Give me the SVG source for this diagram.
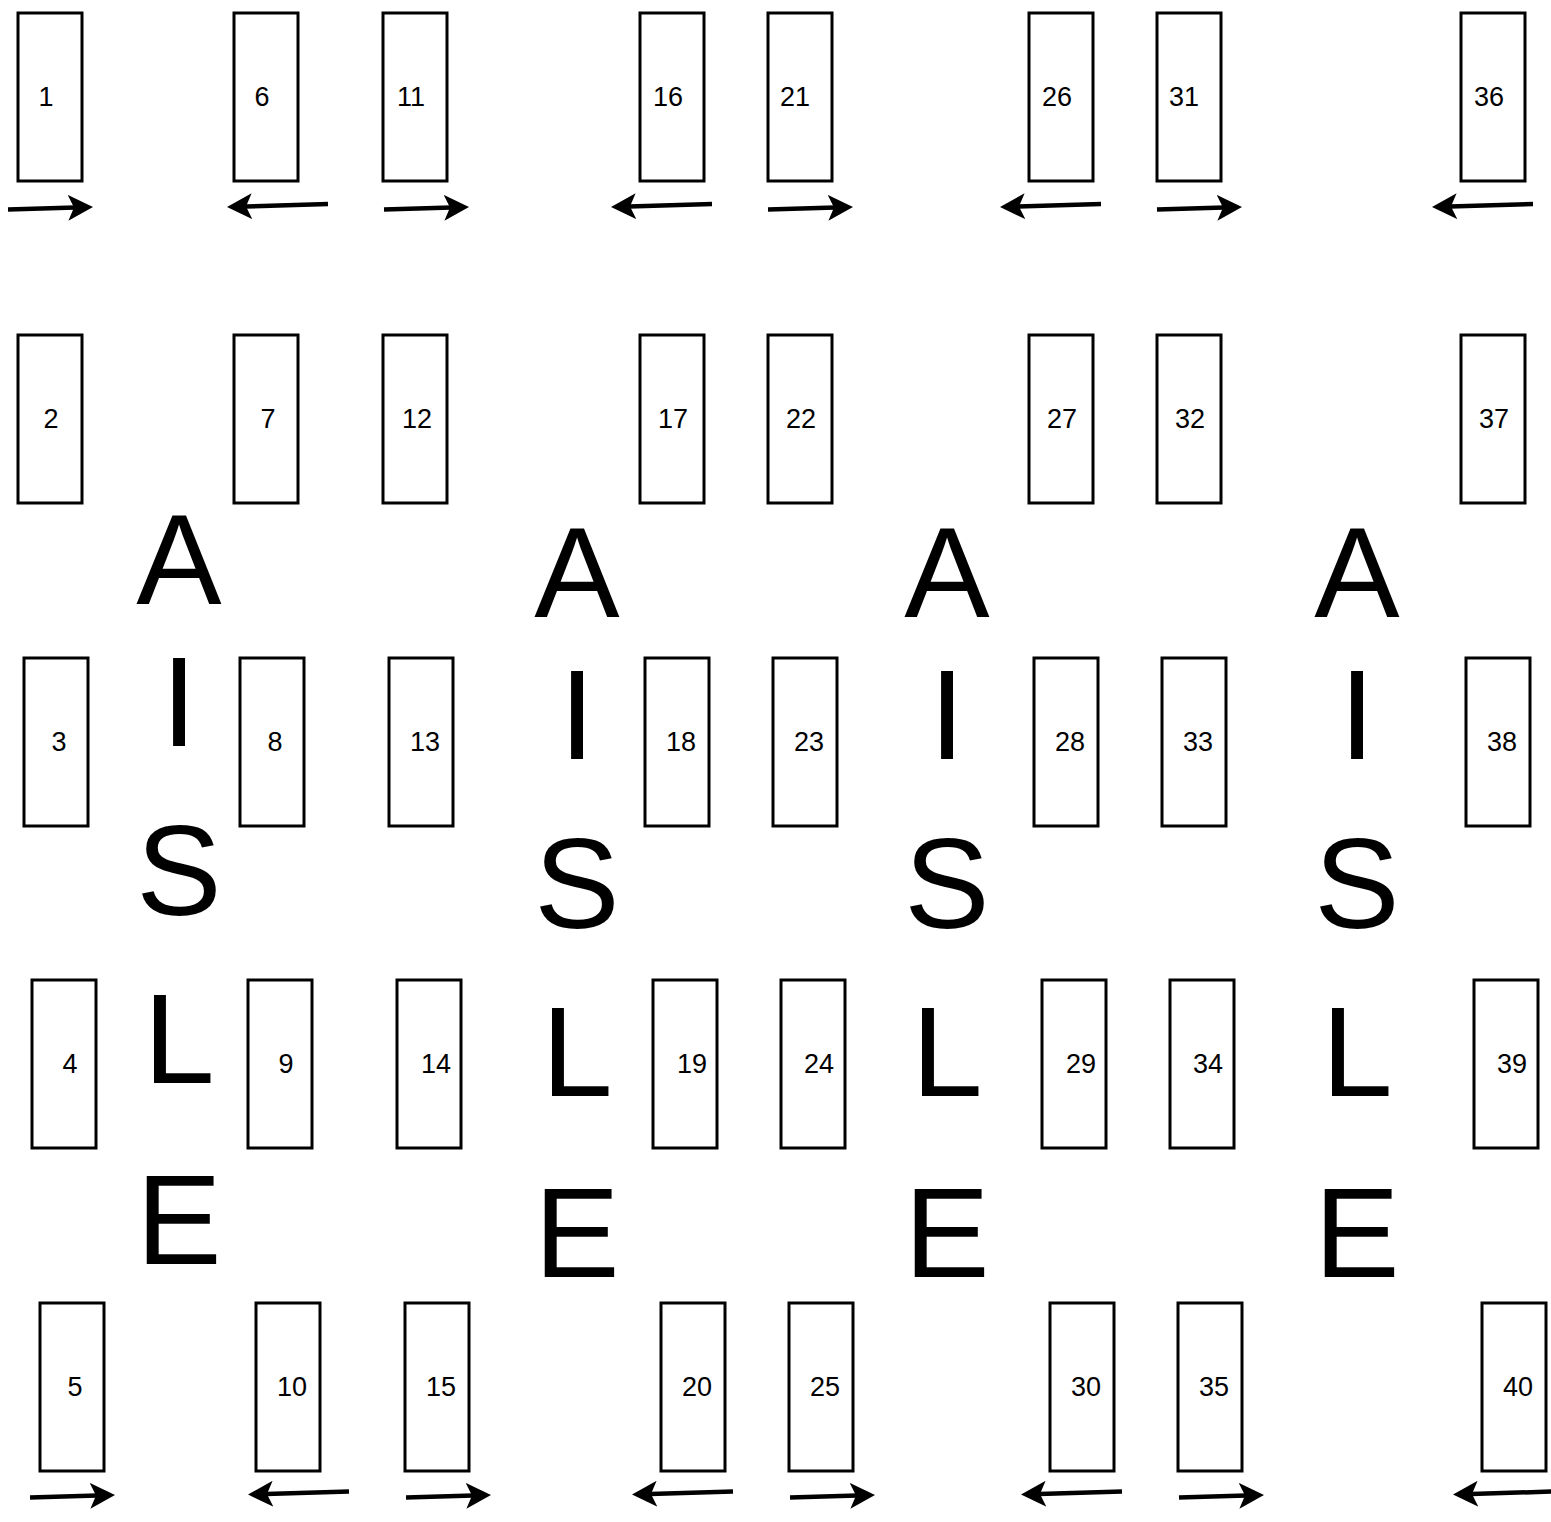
<svg xmlns="http://www.w3.org/2000/svg" width="1551" height="1522" viewBox="0 0 1551 1522">
<style>
.box{fill:#fff;stroke:#000;stroke-width:3}
.lbl{font-family:"Liberation Sans",Arial,Helvetica,sans-serif;font-size:27px;fill:#000;text-anchor:middle}
.aisle{font-family:"Liberation Sans",Arial,Helvetica,sans-serif;font-size:128px;fill:#000;text-anchor:middle}
.arr{fill:none;stroke:#000;stroke-width:4.5;marker-end:url(#head)}
</style>
<defs>
<marker id="head" markerUnits="userSpaceOnUse" viewBox="0 0 26 26" refX="7" refY="13" markerWidth="26" markerHeight="26" orient="auto">
<path d="M0,0 L25,13 L0,26 L6,13 Z" fill="#000"/>
</marker>
</defs>
<rect width="1551" height="1522" fill="#fff"/>
<g id="node-1"><rect class="box" x="18" y="13" width="64" height="168"/><text class="lbl" x="46" y="106">1</text></g>
<g id="node-6"><rect class="box" x="234" y="13" width="64" height="168"/><text class="lbl" x="262" y="106">6</text></g>
<g id="node-11"><rect class="box" x="383" y="13" width="64" height="168"/><text class="lbl" x="411" y="106">11</text></g>
<g id="node-16"><rect class="box" x="640" y="13" width="64" height="168"/><text class="lbl" x="668" y="106">16</text></g>
<g id="node-21"><rect class="box" x="768" y="13" width="64" height="168"/><text class="lbl" x="795" y="106">21</text></g>
<g id="node-26"><rect class="box" x="1029" y="13" width="64" height="168"/><text class="lbl" x="1057" y="106">26</text></g>
<g id="node-31"><rect class="box" x="1157" y="13" width="64" height="168"/><text class="lbl" x="1184" y="106">31</text></g>
<g id="node-36"><rect class="box" x="1461" y="13" width="64" height="168"/><text class="lbl" x="1489" y="106">36</text></g>

<g id="node-2"><rect class="box" x="18" y="335" width="64" height="168"/><text class="lbl" x="51" y="428">2</text></g>
<g id="node-7"><rect class="box" x="234" y="335" width="64" height="168"/><text class="lbl" x="268" y="428">7</text></g>
<g id="node-12"><rect class="box" x="383" y="335" width="64" height="168"/><text class="lbl" x="417" y="428">12</text></g>
<g id="node-17"><rect class="box" x="640" y="335" width="64" height="168"/><text class="lbl" x="673" y="428">17</text></g>
<g id="node-22"><rect class="box" x="768" y="335" width="64" height="168"/><text class="lbl" x="801" y="428">22</text></g>
<g id="node-27"><rect class="box" x="1029" y="335" width="64" height="168"/><text class="lbl" x="1062" y="428">27</text></g>
<g id="node-32"><rect class="box" x="1157" y="335" width="64" height="168"/><text class="lbl" x="1190" y="428">32</text></g>
<g id="node-37"><rect class="box" x="1461" y="335" width="64" height="168"/><text class="lbl" x="1494" y="428">37</text></g>

<g id="node-3"><rect class="box" x="24" y="658" width="64" height="168"/><text class="lbl" x="59" y="751">3</text></g>
<g id="node-8"><rect class="box" x="240" y="658" width="64" height="168"/><text class="lbl" x="275" y="751">8</text></g>
<g id="node-13"><rect class="box" x="389" y="658" width="64" height="168"/><text class="lbl" x="425" y="751">13</text></g>
<g id="node-18"><rect class="box" x="645" y="658" width="64" height="168"/><text class="lbl" x="681" y="751">18</text></g>
<g id="node-23"><rect class="box" x="773" y="658" width="64" height="168"/><text class="lbl" x="809" y="751">23</text></g>
<g id="node-28"><rect class="box" x="1034" y="658" width="64" height="168"/><text class="lbl" x="1070" y="751">28</text></g>
<g id="node-33"><rect class="box" x="1162" y="658" width="64" height="168"/><text class="lbl" x="1198" y="751">33</text></g>
<g id="node-38"><rect class="box" x="1466" y="658" width="64" height="168"/><text class="lbl" x="1502" y="751">38</text></g>

<g id="node-4"><rect class="box" x="32" y="980" width="64" height="168"/><text class="lbl" x="70" y="1073">4</text></g>
<g id="node-9"><rect class="box" x="248" y="980" width="64" height="168"/><text class="lbl" x="286" y="1073">9</text></g>
<g id="node-14"><rect class="box" x="397" y="980" width="64" height="168"/><text class="lbl" x="436" y="1073">14</text></g>
<g id="node-19"><rect class="box" x="653" y="980" width="64" height="168"/><text class="lbl" x="692" y="1073">19</text></g>
<g id="node-24"><rect class="box" x="781" y="980" width="64" height="168"/><text class="lbl" x="819" y="1073">24</text></g>
<g id="node-29"><rect class="box" x="1042" y="980" width="64" height="168"/><text class="lbl" x="1081" y="1073">29</text></g>
<g id="node-34"><rect class="box" x="1170" y="980" width="64" height="168"/><text class="lbl" x="1208" y="1073">34</text></g>
<g id="node-39"><rect class="box" x="1474" y="980" width="64" height="168"/><text class="lbl" x="1512" y="1073">39</text></g>

<g id="node-5"><rect class="box" x="40" y="1303" width="64" height="168"/><text class="lbl" x="75" y="1396">5</text></g>
<g id="node-10"><rect class="box" x="256" y="1303" width="64" height="168"/><text class="lbl" x="292" y="1396">10</text></g>
<g id="node-15"><rect class="box" x="405" y="1303" width="64" height="168"/><text class="lbl" x="441" y="1396">15</text></g>
<g id="node-20"><rect class="box" x="661" y="1303" width="64" height="168"/><text class="lbl" x="697" y="1396">20</text></g>
<g id="node-25"><rect class="box" x="789" y="1303" width="64" height="168"/><text class="lbl" x="825" y="1396">25</text></g>
<g id="node-30"><rect class="box" x="1050" y="1303" width="64" height="168"/><text class="lbl" x="1086" y="1396">30</text></g>
<g id="node-35"><rect class="box" x="1178" y="1303" width="64" height="168"/><text class="lbl" x="1214" y="1396">35</text></g>
<g id="node-40"><rect class="box" x="1482" y="1303" width="64" height="168"/><text class="lbl" x="1518" y="1396">40</text></g>

<g id="aisle-1"><text class="aisle"><tspan x="179" y="604">A</tspan><tspan x="179" y="746">I</tspan><tspan x="179" y="915">S</tspan><tspan x="179" y="1083">L</tspan><tspan x="179" y="1264">E</tspan></text></g>
<g id="aisle-2"><text class="aisle"><tspan x="577" y="617">A</tspan><tspan x="577" y="759">I</tspan><tspan x="577" y="928">S</tspan><tspan x="577" y="1096">L</tspan><tspan x="577" y="1277">E</tspan></text></g>
<g id="aisle-3"><text class="aisle"><tspan x="947" y="617">A</tspan><tspan x="947" y="759">I</tspan><tspan x="947" y="928">S</tspan><tspan x="947" y="1096">L</tspan><tspan x="947" y="1277">E</tspan></text></g>
<g id="aisle-4"><text class="aisle"><tspan x="1357" y="617">A</tspan><tspan x="1357" y="759">I</tspan><tspan x="1357" y="928">S</tspan><tspan x="1357" y="1096">L</tspan><tspan x="1357" y="1277">E</tspan></text></g>

<g id="connectors">
<line class="arr" x1="8" y1="209.5" x2="75" y2="207.5"/>
<line class="arr" x1="384" y1="209.5" x2="451" y2="207.5"/>
<line class="arr" x1="768" y1="209.5" x2="835" y2="207.5"/>
<line class="arr" x1="1157" y1="209.5" x2="1224" y2="207.5"/>
<line class="arr" x1="328" y1="204" x2="245" y2="206.5"/>
<line class="arr" x1="712" y1="204" x2="629" y2="206.5"/>
<line class="arr" x1="1101" y1="204" x2="1018" y2="206.5"/>
<line class="arr" x1="1533" y1="204" x2="1450" y2="206.5"/>
<line class="arr" x1="30" y1="1497.5" x2="97" y2="1495.5"/>
<line class="arr" x1="406" y1="1497.5" x2="473" y2="1495.5"/>
<line class="arr" x1="790" y1="1497.5" x2="857" y2="1495.5"/>
<line class="arr" x1="1179" y1="1497.5" x2="1246" y2="1495.5"/>
<line class="arr" x1="349" y1="1491.5" x2="266" y2="1494"/>
<line class="arr" x1="733" y1="1491.5" x2="650" y2="1494"/>
<line class="arr" x1="1122" y1="1491.5" x2="1039" y2="1494"/>
<line class="arr" x1="1554" y1="1491.5" x2="1471" y2="1494"/>
</g>
</svg>
